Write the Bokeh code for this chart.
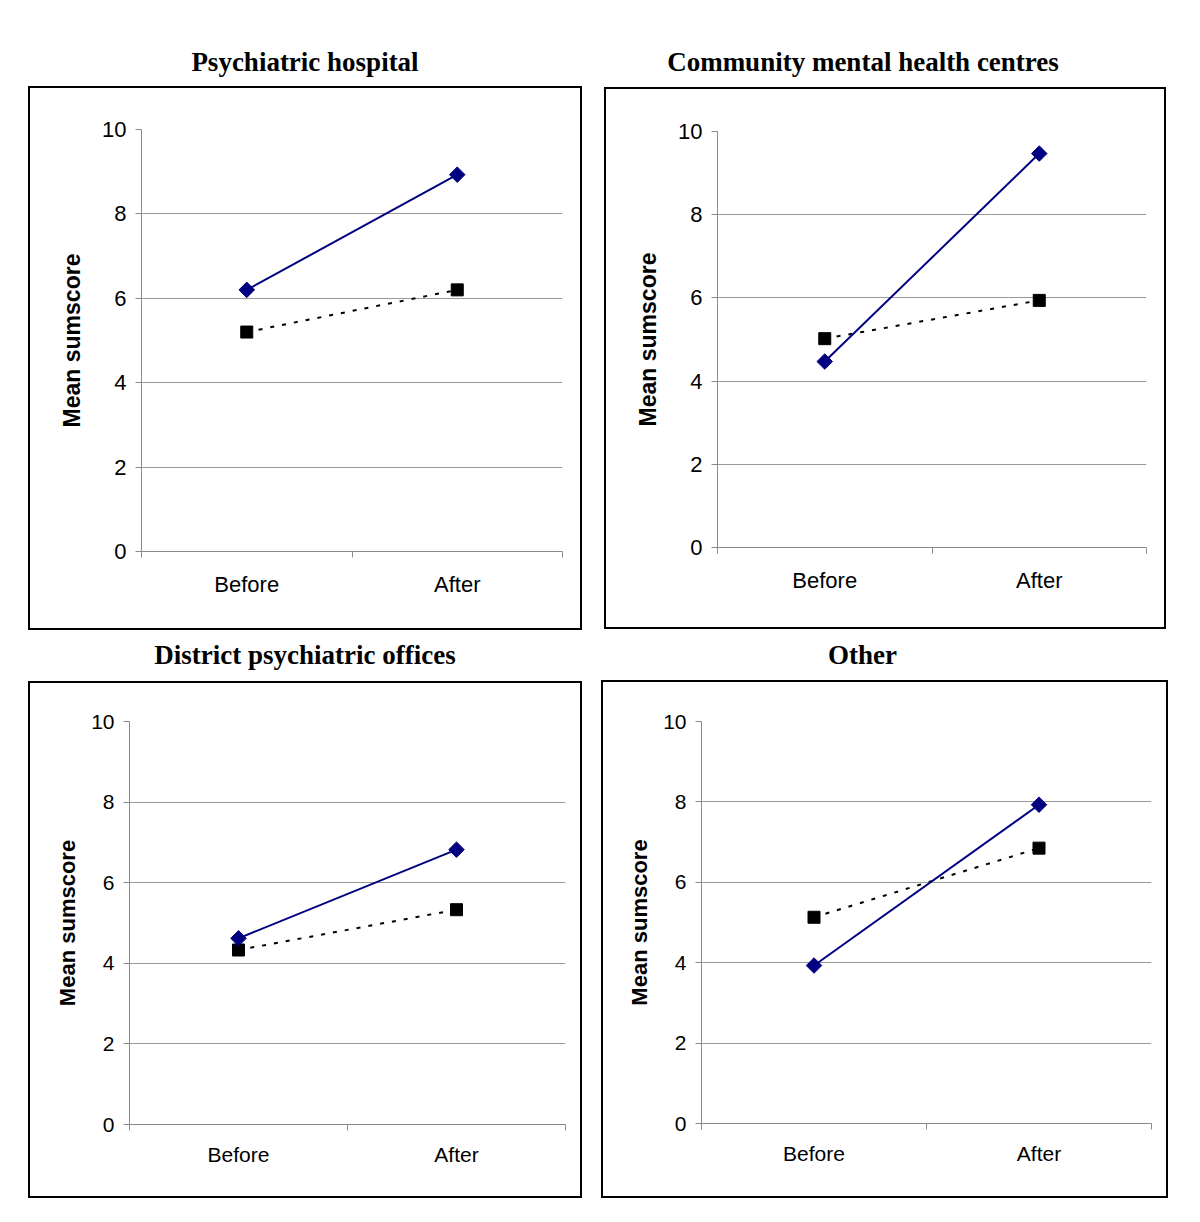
import numpy as np
from bokeh.plotting import figure
from bokeh.models import Range1d, FixedTicker, Spacer, Div
from bokeh.layouts import row, column
from bokeh.embed import file_html
from bokeh.resources import INLINE

# ---------------- data ----------------
categories = ["Before", "After"]
titles = ["Psychiatric hospital", "Community mental health centres",
          "District psychiatric offices", "Other"]
y_label = "Mean sumscore"
y_ticks = [0, 2, 4, 6, 8, 10]

hospital_solid = [6.2, 8.93]
hospital_dotted = [5.2, 6.2]
centres_solid = [4.47, 9.47]
centres_dotted = [5.02, 5.94]
offices_solid = [4.62, 6.82]
offices_dotted = [4.33, 5.33]
other_solid = [3.93, 7.93]
other_dotted = [5.13, 6.85]

NAVY = "#000080"
GRID = "#9a9a9a"
AXIS = "#8a8a8a"
BW = 2  # border width of each panel box


def title_div(text, w, h, shift=0):
    return Div(text=text, width=w, height=h, margin=0,
               styles={"text-align": "center", "font-family": "Liberation Serif",
                       "font-weight": "bold", "font-size": "27px",
                       "line-height": f"{h}px", "color": "black",
                       "white-space": "nowrap", "padding-right": f"{shift}px",
                       "box-sizing": "border-box"})


def panel(solid, dotted, box, frame, tick_fs, lab_fs, lab_standoff, x_standoff):
    x0, y0, x1, y1 = box
    fx0, fy0, fx1, fy1 = frame
    W, H = x1 - x0 + 1, y1 - y0 + 1
    n = len(categories)
    xs = [2 * i + 1 for i in range(n)]
    p = figure(width=W, height=H,
               x_range=Range1d(0, 2 * n), y_range=Range1d(0, 10),
               min_border_left=fx0 - x0 - BW, min_border_right=x0 + BW + W - fx1,
               min_border_top=fy0 - y0 - BW, min_border_bottom=y0 + BW + H - fy1,
               toolbar_location=None, output_backend="svg",
               styles={"border": f"{BW}px solid black"})
    p.outline_line_color = None
    p.background_fill_color = "white"
    p.border_fill_color = "white"

    # x axis: labels at category centres, ticks at category boundaries
    xa = p.xaxis[0]
    xa.ticker = FixedTicker(ticks=xs, minor_ticks=[2 * i for i in range(n + 1)])
    xa.major_label_overrides = {x: c for x, c in zip(xs, categories)}
    xa.major_tick_out = 0
    xa.major_tick_in = 0
    xa.minor_tick_out = 6
    xa.minor_tick_in = 0
    xa.minor_tick_line_color = AXIS
    xa.axis_line_color = AXIS
    xa.major_label_text_font = "Liberation Sans"
    xa.major_label_text_font_size = tick_fs
    xa.major_label_text_color = "black"
    xa.major_label_standoff = x_standoff

    ya = p.yaxis[0]
    ya.ticker = FixedTicker(ticks=y_ticks, minor_ticks=[])
    ya.major_tick_out = 6
    ya.major_tick_in = 0
    ya.major_tick_line_color = AXIS
    ya.axis_line_color = AXIS
    ya.major_label_text_font = "Liberation Sans"
    ya.major_label_text_font_size = tick_fs
    ya.major_label_text_color = "black"
    ya.major_label_standoff = 9
    ya.axis_label = y_label
    ya.axis_label_text_font = "Liberation Sans"
    ya.axis_label_text_font_style = "bold"
    ya.axis_label_text_font_size = lab_fs
    ya.axis_label_text_color = "black"
    ya.axis_label_standoff = lab_standoff

    p.xgrid.visible = False
    p.ygrid.ticker = FixedTicker(ticks=y_ticks)
    p.ygrid.grid_line_color = GRID

    p.line(xs, dotted, line_color="black", line_width=2, line_dash="4 8")
    p.line(xs, solid, line_color=NAVY, line_width=2)
    p.scatter(xs, dotted, marker="square", size=12, fill_color="black", line_color="black")
    p.scatter(xs, solid, marker="square", size=11, angle=np.pi / 4,
              fill_color=NAVY, line_color=NAVY)
    return p


p1 = panel(hospital_solid, hospital_dotted, (28, 86, 581, 629), (141, 129, 562, 551),
           "22px", "23px", 14, 14)
p2 = panel(centres_solid, centres_dotted, (604, 87, 1165, 628), (717, 131, 1146, 547),
           "22px", "23px", 14, 14)
p3 = panel(offices_solid, offices_dotted, (28, 681, 581, 1197), (129, 721, 565, 1124),
           "21px", "22px", 8, 12)
p4 = panel(other_solid, other_dotted, (601, 680, 1167, 1197), (701, 721, 1151, 1123),
           "21px", "22px", 8, 12)

t1 = title_div(titles[0], 554, 48)
t2 = title_div(titles[1], 562, 49, shift=44)
t3 = title_div(titles[2], 554, 51)
t4 = title_div(titles[3], 567, 50, shift=44)

row1 = row(Spacer(width=28), column(t1, p1), Spacer(width=22), column(t2, p2))
row2 = row(Spacer(width=28), column(t3, p3), Spacer(width=19), column(t4, p4))
layout = column(Spacer(height=38), row1, row2)

open("out.html", "w").write(file_html(layout, INLINE))
